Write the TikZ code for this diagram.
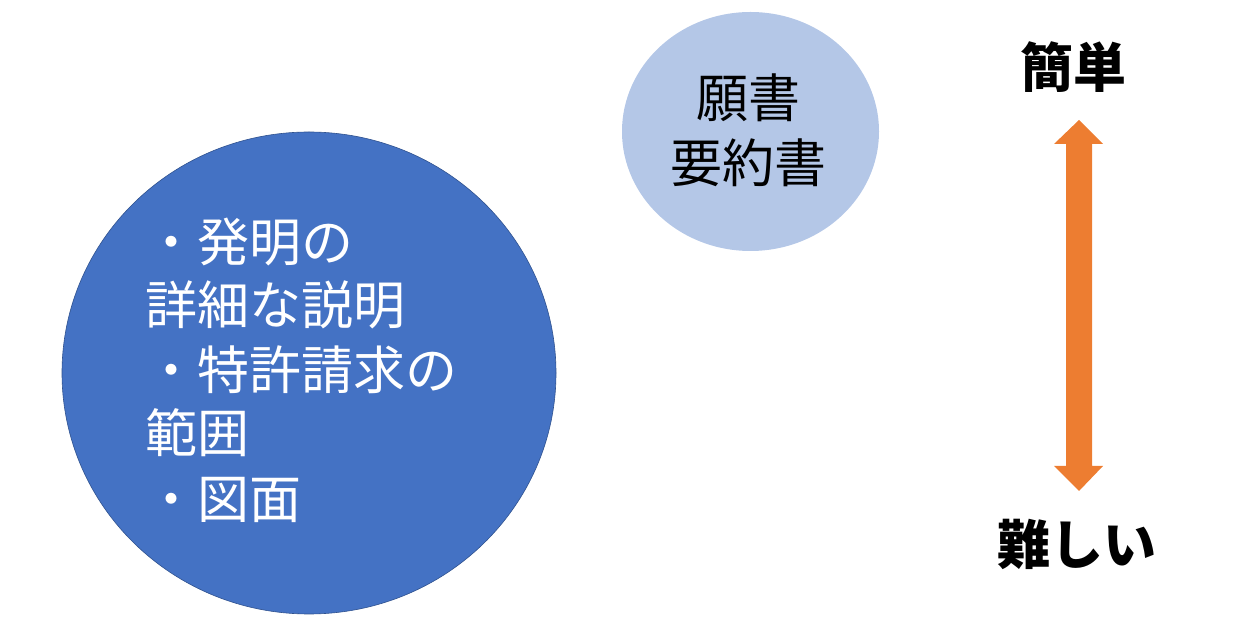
\documentclass[tikz,border=0pt]{standalone}
\usepackage{fontspec}
\setmainfont{Noto Sans CJK JP}
\usetikzlibrary{shapes.geometric}
\definecolor{bigblue}{HTML}{4472C4}
\definecolor{bigedge}{HTML}{2F528F}
\definecolor{smallblue}{HTML}{B4C7E7}
\definecolor{arroworange}{HTML}{ED7D31}
\tikzset{
  bigtext/.style={anchor=base west, inner sep=0pt, text=white, font=\fontsize{52}{64}\selectfont},
  smalltext/.style={anchor=base, inner sep=0pt, text=black, font=\fontsize{52}{64}\selectfont},
  labeltext/.style={anchor=base, inner sep=0pt, text=black, font=\fontsize{53}{64}\selectfont\bfseries},
}
\begin{document}
\begin{tikzpicture}[x=1pt,y=1pt]
\useasboundingbox (0,0) rectangle (1248,624);
% big circle
\node[ellipse, fill=bigblue, draw=bigedge, line width=0.6pt, minimum width=494pt, minimum height=482pt, inner sep=0pt] (big) at (309,251) {};
\node[bigtext] (b1) at (145,362.5) {・発明の};
\node[bigtext] (b2) at (145,299) {詳細な説明};
\node[bigtext] (b3) at (145,234) {・特許請求の};
\node[bigtext] (b4) at (145,171) {範囲};
\node[bigtext] (b5) at (145,105) {・図面};
% small circle
\node[ellipse, fill=smallblue, minimum width=257pt, minimum height=239pt, inner sep=0pt] (small) at (750.5,492.5) {};
\node[smalltext] (s1) at (748,506) {願書};
\node[smalltext] (s2) at (748,441) {要約書};
% labels
\node[labeltext] (easy) at (1073,536) {簡単};
\node[labeltext] (hard) at (1077,59) {難しい};
% double arrow
\fill[arroworange] (1079,504) -- (1103,480) -- (1092,480) -- (1092,158) -- (1103,158) -- (1079,133) -- (1054,158) -- (1066,158) -- (1066,480) -- (1054,480) -- cycle;
\end{tikzpicture}
\end{document}
